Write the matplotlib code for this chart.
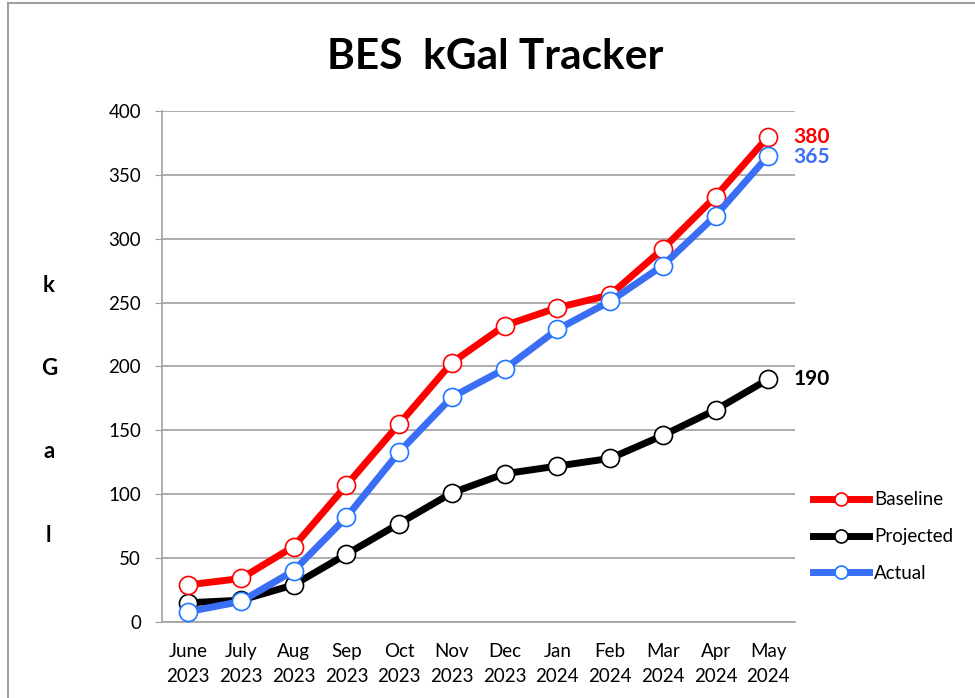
import matplotlib.pyplot as plt
from matplotlib.patches import Rectangle

# data
months = ['June\n2023', 'July\n2023', 'Aug\n2023', 'Sep\n2023', 'Oct\n2023', 'Nov\n2023',
          'Dec\n2023', 'Jan\n2024', 'Feb\n2024', 'Mar\n2024', 'Apr\n2024', 'May\n2024']
baseline = [29, 34, 59, 107, 155, 203, 232, 246, 256, 292, 333, 380]
projected = [15, 17, 29, 53, 77, 101, 116, 122, 128, 146, 166, 190]
actual = [8, 16, 40, 82, 133, 176, 198, 229, 251, 279, 318, 365]

red = '#FF0000'
black = '#000000'
blue = '#3A6EF5'

plt.rcParams['font.family'] = ['Lato', 'DejaVu Sans']

fig = plt.figure(figsize=(9.75, 6.98), dpi=100)
ax = fig.add_axes([0.166, 0.109, 0.649, 0.732])

x = range(len(months))
ax.plot(x, baseline, color=red, lw=5, marker='o', ms=13, mfc='white', mec=red, mew=1.2,
        label='Baseline', zorder=3)
ax.plot(x, projected, color=black, lw=5, marker='o', ms=13, mfc='white', mec=black, mew=1.2,
        label='Projected', zorder=2)
ax.plot(x, actual, color=blue, lw=5, marker='o', ms=13, mfc='white', mec='#1E78FF', mew=1.2,
        label='Actual', zorder=4)

# end labels
ax.annotate(str(baseline[-1]), (x[-1], baseline[-1]), xytext=(18, 0), textcoords='offset points',
            color=red, fontsize=15, fontweight='bold', va='center')
ax.annotate(str(actual[-1]), (x[-1], actual[-1]), xytext=(18, -1), textcoords='offset points',
            color=blue, fontsize=15, fontweight='bold', va='center')
ax.annotate(str(projected[-1]), (x[-1], projected[-1]), xytext=(18, 0), textcoords='offset points',
            color=black, fontsize=15, fontweight='bold', va='center')

ax.set_xlim(-0.5, len(months) - 0.5)
ax.set_ylim(0, 400)
ax.set_yticks(range(0, 401, 50))
ax.set_xticks(list(x))
ax.set_xticklabels(months, fontsize=13.5, linespacing=1.6)
ax.tick_params(axis='y', labelsize=13.5, length=5, color='#A0A0A0', pad=10)
ax.tick_params(axis='x', length=0, pad=15)
ax.yaxis.grid(True, color='#A0A0A0', lw=1.2)
ax.set_axisbelow(True)
for s in ['top', 'right']:
    ax.spines[s].set_visible(False)
for s in ['left', 'bottom']:
    ax.spines[s].set_color('#A0A0A0')
    ax.spines[s].set_linewidth(1.2)

fig.text(0.508, 0.918, 'BES  kGal Tracker', ha='center', va='center', fontsize=30.5, fontweight='bold')

# vertical y label
for i, ch in enumerate('kGal'):
    fig.text(0.05, 1 - (285 + i * 83.5) / 698, ch, ha='center', va='center',
             fontsize=16, fontweight='bold')

ax.legend(loc='upper left', bbox_to_anchor=(0.834, 0.296), bbox_transform=fig.transFigure,
          frameon=False, fontsize=13.5, handlelength=3.0, handletextpad=0.25, labelspacing=1.05,
          borderaxespad=0, borderpad=0, markerscale=0.72)

# chart border
fig.patches.append(Rectangle((8 / 975, -0.01), 1.0, 1 - 3 / 698 + 0.01, transform=fig.transFigure,
                             fill=False, edgecolor='#A0A0A0', lw=1.5))

fig.savefig('out.png', dpi=100)
